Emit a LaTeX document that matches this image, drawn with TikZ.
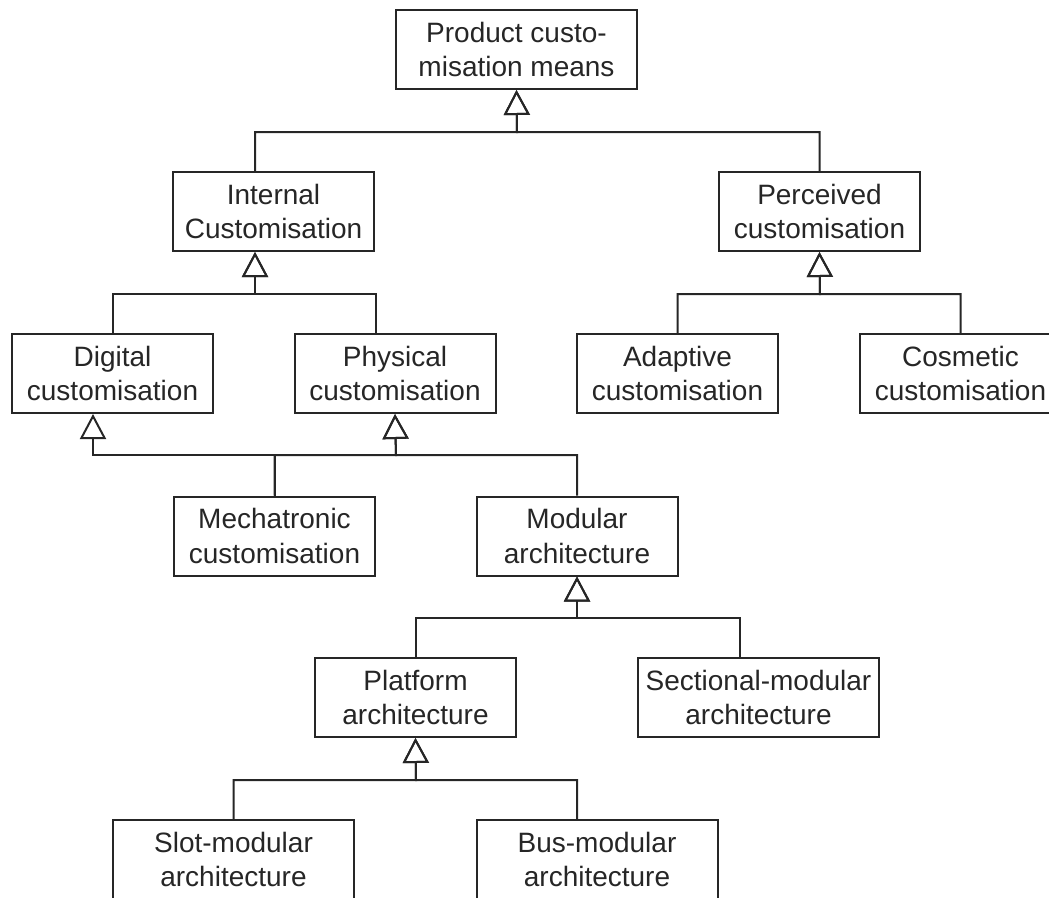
\documentclass[tikz,border=0pt]{standalone}
\usepackage{fontspec}
\setmainfont{Liberation Sans}
\usetikzlibrary{arrows.meta}

\begin{document}
\begin{tikzpicture}[x=1pt,y=-1pt,
        box/.style={draw=black!85, line width=2pt, minimum width=201pt, minimum height=79pt,
            inner sep=0pt, align=center, text=black!85, font=\fontsize{28}{34.5}\selectfont},
        widebox/.style={box, minimum width=241pt},
        inh/.style={draw=black!85, line width=2pt, -{Triangle[open, length=25pt, width=26pt]}}]
        \clip (0,0) rectangle (1049,897);
        % classes
        \node[widebox] (means) at (516.5,49.5) {Product custo-\\misation means};
        \node[box] (internal) at (273.5,211.5) {Internal\\Customisation};
        \node[box] (perceived) at (819.5,211.5) {Perceived\\customisation};
        \node[box] (digital) at (112.5,373.5) {Digital\\customisation};
        \node[box] (physical) at (395,373.5) {Physical\\customisation};
        \node[box] (adaptive) at (677.5,373.5) {Adaptive\\customisation};
        \node[box] (cosmetic) at (960.5,373.5) {Cosmetic\\customisation};
        \node[box] (mechatronic) at (274.5,536) {Mechatronic\\customisation};
        \node[box] (modular) at (577,536) {Modular\\architecture};
        \node[box] (platform) at (415.5,697.5) {Platform\\architecture};
        \node[widebox] (sectional) at (758.5,697.5) {Sectional-modular\\architecture};
        \node[widebox] (slot) at (233.5,859.5) {Slot-modular\\architecture};
        \node[widebox] (bus) at (597,859.5) {Bus-modular\\architecture};
        % junctions on the bars
        \coordinate (j0) at (517,132);
        \coordinate (j1) at (255,294);
        \coordinate (j2) at (820,294);
        \coordinate (j3) at (93,455);
        \coordinate (j4) at (396,455);
        \coordinate (j5) at (577,618);
        \coordinate (j6) at (416,780);
        % generalisations
        \draw[inh] (internal.north -| j1) |- (j0) -- (means.south);
        \draw[inh] (perceived.north) |- (j0) -- (means.south);
        \draw[inh] (digital.north) |- (j1) -- (internal.south -| j1);
        \draw[inh] ([xshift=-19pt]physical.north) |- (j1) -- (internal.south -| j1);
        \draw[inh] (adaptive.north) |- (j2) -- (perceived.south);
        \draw[inh] (cosmetic.north) |- (j2) -- (perceived.south);
        \draw[inh] (mechatronic.north) |- (j3) -- (digital.south -| j3);
        \draw[inh] (mechatronic.north) |- (j4) -- (physical.south);
        \draw[inh] (modular.north) |- (j4) -- (physical.south);
        \draw[inh] (platform.north) |- (j5) -- (modular.south);
        \draw[inh] ([xshift=-18.5pt]sectional.north) |- (j5) -- (modular.south);
        \draw[inh] (slot.north) |- (j6) -- (platform.south);
        \draw[inh] ([xshift=-20pt]bus.north) |- (j6) -- (platform.south);
\end{tikzpicture}
\end{document}
